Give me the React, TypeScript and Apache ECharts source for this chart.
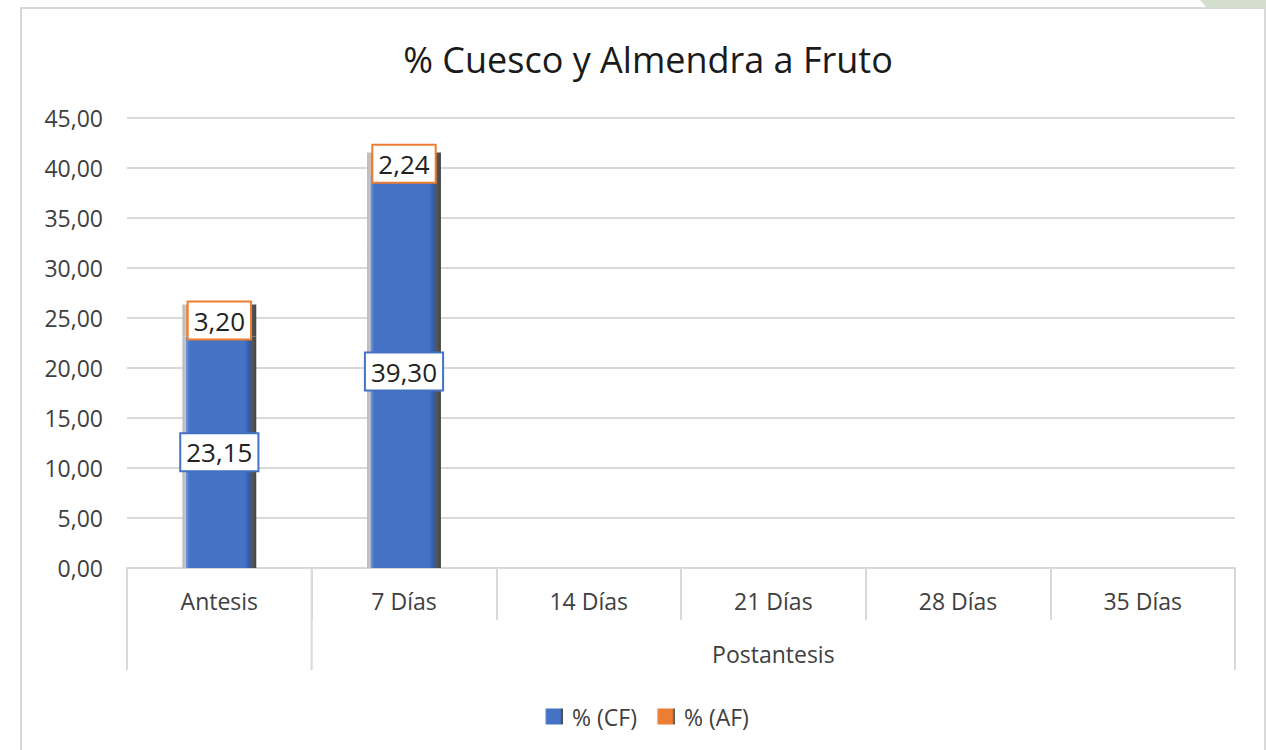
import React, { useEffect, useRef } from 'react';
import * as echarts from 'echarts';

const title = '% Cuesco y Almendra a Fruto';
const categories = ['Antesis', '7 Días', '14 Días', '21 Días', '28 Días', '35 Días'];
const groupLabels = ['', '', '', 'Postantesis', '', ''];
const groupBoundaries = [0, 1, 6];
const seriesNames = ['% (CF)', '% (AF)'];
const cfValues: (number | null)[] = [23.15, 39.3, null, null, null, null];
const afValues: (number | null)[] = [3.2, 2.24, null, null, null, null];
const yMin = 0;
const yMax = 45;
const yInterval = 5;

const FONT = 'Open Sans';
const fmt = (v: number) => v.toFixed(2).replace('.', ',');

const bevel = (light: string, base: string, dark: string) =>
  new echarts.graphic.LinearGradient(0, 0, 1, 0, [
    { offset: 0, color: '#b8b8b8' },
    { offset: 0.045, color: '#c8c8c8' },
    { offset: 0.05, color: light },
    { offset: 0.1, color: base },
    { offset: 0.84, color: base },
    { offset: 0.92, color: dark },
    { offset: 0.93, color: '#5a5a5a' },
    { offset: 1, color: '#444444' },
  ]);

export default function App() {
  const ref = useRef<HTMLDivElement>(null);
  useEffect(() => {
    document.body.style.margin = '0';
    const chart = echarts.init(ref.current!, null, { renderer: 'svg' });
    const labelBase = {
      show: true,
      position: 'inside',
      fontFamily: FONT,
      fontSize: 26,
      color: '#222222',
      backgroundColor: '#ffffff',
      borderWidth: 2,
      padding: [6, 5, 4, 5],
      formatter: (p: any) => fmt(p.value),
    };
    chart.setOption({
      animation: false,
      backgroundColor: '#ffffff',
      textStyle: { fontFamily: FONT },
      title: {
        text: title,
        left: 643,
        top: 36,
        textAlign: 'center',
        textStyle: { fontFamily: FONT, fontSize: 36, fontWeight: 'normal', color: '#1a1a1a' },
      },
      legend: {
        data: seriesNames,
        left: 540,
        top: 700,
        icon: 'rect',
        itemWidth: 18,
        itemHeight: 16,
        itemGap: 20,
        textStyle: { fontFamily: FONT, fontSize: 23, color: '#404040', padding: [0, 0, 0, 4] },
      },
      grid: { left: 127, right: 31, top: 118, bottom: 182 },
      xAxis: [
        {
          type: 'category',
          data: categories,
          axisLine: { lineStyle: { color: '#d9d9d9', width: 2 } },
          axisTick: { show: true, length: 52, lineStyle: { color: '#d9d9d9', width: 2 } },
          axisLabel: { margin: 21, fontFamily: FONT, fontSize: 23, color: '#404040' },
        },
        {
          type: 'category',
          position: 'bottom',
          data: groupLabels,
          axisLine: { show: false },
          axisTick: { show: false },
          axisLabel: { margin: 74, interval: 0, fontFamily: FONT, fontSize: 23, color: '#404040' },
        },
      ],
      yAxis: {
        type: 'value',
        min: yMin,
        max: yMax,
        interval: yInterval,
        axisLine: { show: false },
        axisTick: { show: false },
        splitLine: { lineStyle: { color: '#d9d9d9', width: 2 } },
        axisLabel: { margin: 24, fontFamily: FONT, fontSize: 23, color: '#404040', formatter: (v: number) => fmt(v) },
      },
      series: [
        {
          name: seriesNames[0],
          type: 'bar',
          stack: 'total',
          barWidth: '40%',
          data: cfValues,
          itemStyle: { color: bevel('#6f95dc', '#4472c4', '#33579a') },
          label: { ...labelBase, borderColor: '#4472c4' },
        },
        {
          name: seriesNames[1],
          type: 'bar',
          stack: 'total',
          barWidth: '40%',
          data: afValues,
          itemStyle: { color: bevel('#f39a5e', '#ed7d31', '#b85f22') },
          label: { ...labelBase, borderColor: '#ed7d31' },
        },
      ],
    });

    const c0 = chart.convertToPixel({ xAxisIndex: 0 }, 0) as number;
    const c1 = chart.convertToPixel({ xAxisIndex: 0 }, 1) as number;
    const band = c1 - c0;
    const y0 = chart.convertToPixel({ yAxisIndex: 0 }, yMin) as number;
    const lines = groupBoundaries.map((b) => {
      const x = c0 - band / 2 + b * band;
      return {
        type: 'line',
        shape: { x1: x, y1: y0, x2: x, y2: y0 + 102 },
        style: { stroke: '#d9d9d9', lineWidth: 2 },
        silent: true,
      };
    });
    chart.setOption({
      graphic: [
        {
          type: 'rect',
          shape: { x: 21, y: 8, width: 1244, height: 800 },
          style: { fill: 'none', stroke: '#d9d9d9', lineWidth: 2 },
          silent: true,
        },
        {
          type: 'polygon',
          shape: { points: [[1200, 0], [1266, 0], [1266, 8], [1207, 8]] },
          style: { fill: '#d3dfcc' },
          silent: true,
        },
        ...lines,
      ],
    });
    return () => chart.dispose();
  }, []);
  return <div ref={ref} style={{ width: 1266, height: 750 }} />;
}
